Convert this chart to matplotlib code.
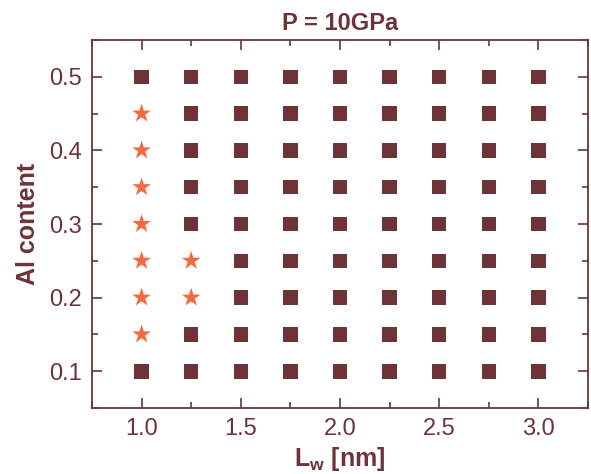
import matplotlib
matplotlib.use("Agg")
import matplotlib.pyplot as plt
from matplotlib.ticker import MultipleLocator, FormatStrFormatter

plt.rcParams['font.family'] = ['Liberation Sans', 'DejaVu Sans']
plt.rcParams['mathtext.fontset'] = 'custom'
plt.rcParams['mathtext.rm'] = 'Liberation Sans'

# grid of simulated well widths and Al contents
lw_values = [1.0, 1.25, 1.5, 1.75, 2.0, 2.25, 2.5, 2.75, 3.0]
al_values = [0.1, 0.15, 0.2, 0.25, 0.3, 0.35, 0.4, 0.45, 0.5]

# points marked as stars (the rest are squares)
star_lw = [1.0, 1.0, 1.0, 1.0, 1.0, 1.0, 1.0, 1.25, 1.25]
star_al = [0.15, 0.2, 0.25, 0.3, 0.35, 0.4, 0.45, 0.2, 0.25]

brown = '#6e3337'
orange = '#f26a3d'

star_set = set(zip(star_lw, star_al))
sq_x, sq_y = [], []
for x in lw_values:
    for y in al_values:
        if (x, y) not in star_set:
            sq_x.append(x)
            sq_y.append(y)

fig = plt.figure(figsize=(5.91, 4.74), dpi=100)
ax = fig.add_axes([0.1557, 0.1392, 0.8392, 0.7764])

ax.scatter(sq_x, sq_y, marker='s', s=110, color=brown, edgecolors='none')
ax.scatter(star_lw, star_al, marker='*', s=200, color=orange, edgecolors='none')

ax.set_xlim(0.75, 3.25)
ax.set_ylim(0.05, 0.55)
ax.xaxis.set_major_locator(MultipleLocator(0.5))
ax.xaxis.set_minor_locator(MultipleLocator(0.25))
ax.yaxis.set_major_locator(MultipleLocator(0.1))
ax.yaxis.set_minor_locator(MultipleLocator(0.05))
ax.xaxis.set_major_formatter(FormatStrFormatter('%.1f'))
ax.yaxis.set_major_formatter(FormatStrFormatter('%.1f'))

ax.tick_params(which='both', direction='in', top=True, right=True,
               color=brown, labelcolor=brown, labelsize=17, width=1.2)
ax.tick_params(which='major', length=7, pad=7)
ax.tick_params(which='minor', length=4)
for sp in ax.spines.values():
    sp.set_color(brown)
    sp.set_linewidth(1.3)

ax.set_xlabel(r'L$_\mathregular{w}$ [nm]', fontsize=18, fontweight='bold', color=brown, labelpad=4)
ax.set_ylabel('Al content', fontsize=18, fontweight='bold', color=brown, labelpad=7)
ax.set_title('P = 10GPa', fontsize=17, fontweight='bold', color=brown, pad=7)

fig.savefig('out.png', dpi=100)
